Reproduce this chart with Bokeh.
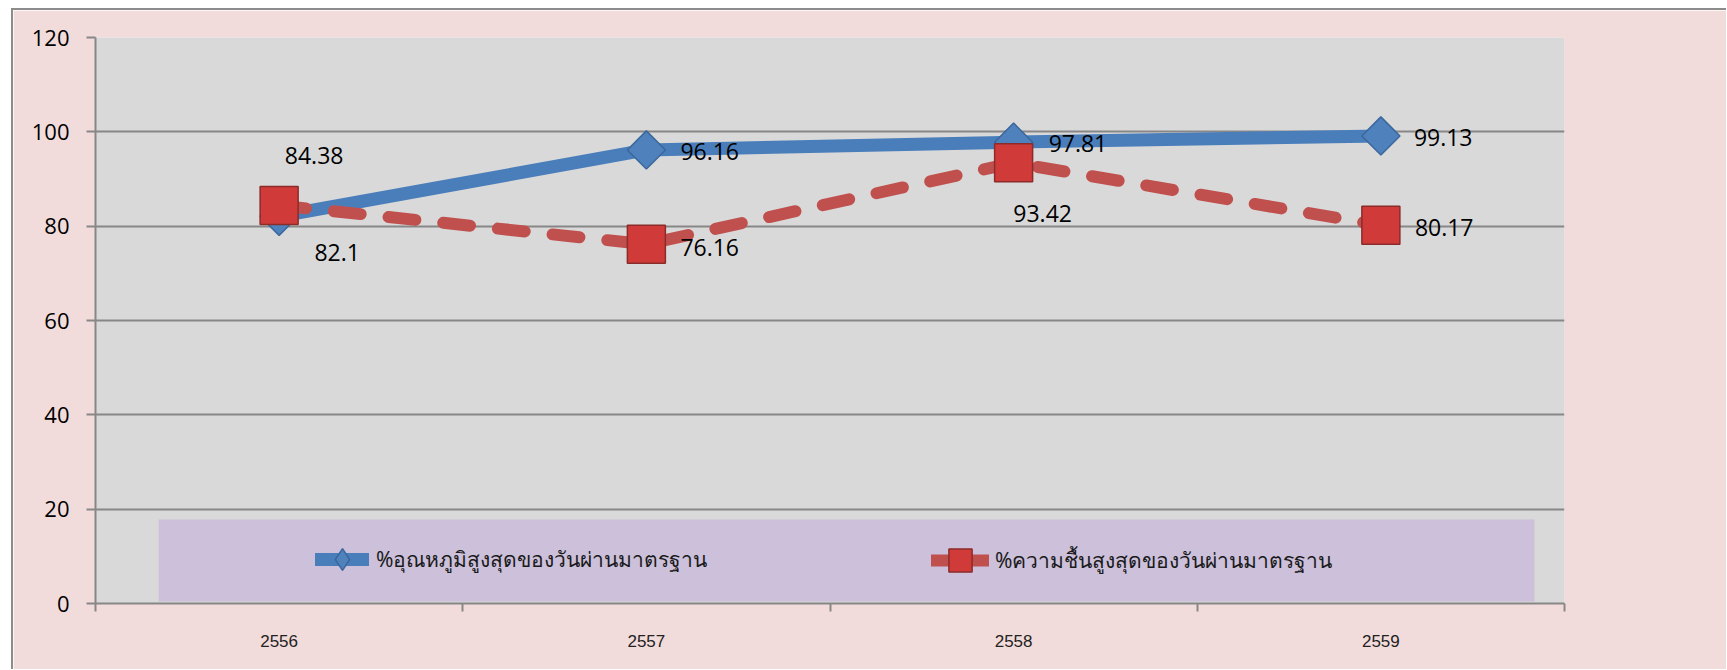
import math
from bokeh.plotting import figure
from bokeh.models import (ColumnDataSource, Range1d, FixedTicker, Legend, LegendItem,
                          BoxAnnotation)
from bokeh.core.properties import value, field
from bokeh.embed import file_html
from bokeh.resources import INLINE

# ---- data ----
years = ["2556", "2557", "2558", "2559"]
temp_pct = [82.1, 96.16, 97.81, 99.13]
humid_pct = [84.38, 76.16, 93.42, 80.17]
temp_name = "%อุณหภูมิสูงสุดของวันผ่านมาตรฐาน"
humid_name = "%ความชื้นสูงสุดของวันผ่านมาตรฐาน"
y_ticks = [0, 20, 40, 60, 80, 100, 120]

# ---- label placement (style only) ----
temp_lbl_dx = [58, 34, 35, 33]
temp_lbl_dy = [36, 2, 1, 2]
temp_lbl_align = ["center", "left", "left", "left"]
humid_lbl_dx = [35, 34, 29, 34]
humid_lbl_dy = [-50, 3, 51, 2]
humid_lbl_align = ["center", "left", "center", "left"]

xs = list(range(len(years)))

temp_src = ColumnDataSource(dict(x=xs, y=temp_pct, lbl=[str(v) for v in temp_pct],
                                 dx=temp_lbl_dx, dy=temp_lbl_dy, align=temp_lbl_align))
humid_src = ColumnDataSource(dict(x=xs, y=humid_pct, lbl=[str(v) for v in humid_pct],
                                  dx=humid_lbl_dx, dy=humid_lbl_dy, align=humid_lbl_align))

p = figure(frame_width=1469, frame_height=566,
           x_range=Range1d(-0.5, len(years) - 0.5), y_range=Range1d(0, 120),
           output_backend="svg", toolbar_location=None,
           min_border_left=82, min_border_right=162, min_border_top=27, min_border_bottom=66)
p.background_fill_color = "#D9D9D9"
p.border_fill_color = "#F2DCDB"
p.outline_line_color = None
p.styles = {"border-left": "2px solid #8C8C8C", "border-top": "2px solid #8C8C8C",
            "margin-left": "11px", "margin-top": "8px"}

AX = "#878787"
# y axis
p.yaxis.ticker = FixedTicker(ticks=y_ticks)
p.yaxis.axis_line_color = AX
p.yaxis.axis_line_width = 2
p.yaxis.major_tick_line_color = AX
p.yaxis.major_tick_line_width = 2
p.yaxis.major_tick_out = 9
p.yaxis.major_tick_in = 0
p.yaxis.minor_tick_line_color = None
p.yaxis.major_label_text_font = "Open Sans"
p.yaxis.major_label_text_font_size = "22px"
p.yaxis.major_label_text_color = "#000000"
p.yaxis.major_label_standoff = 17

# x axis
p.xaxis.ticker = FixedTicker(ticks=xs, minor_ticks=[i - 0.5 for i in range(len(years) + 1)])
p.xaxis.major_label_overrides = {i: y for i, y in enumerate(years)}
p.xaxis.axis_line_color = AX
p.xaxis.axis_line_width = 2
p.xaxis.major_tick_out = 0
p.xaxis.major_tick_in = 0
p.xaxis.major_tick_line_color = None
p.xaxis.minor_tick_out = 8
p.xaxis.minor_tick_in = 0
p.xaxis.minor_tick_line_color = AX
p.xaxis.minor_tick_line_width = 2
p.xaxis.major_label_text_font = "Liberation Sans"
p.xaxis.major_label_text_font_size = "17px"
p.xaxis.major_label_text_color = "#222222"
p.xaxis.major_label_standoff = 23

p.xgrid.visible = False
p.ygrid.ticker = FixedTicker(ticks=y_ticks)
p.ygrid.grid_line_color = AX
p.ygrid.grid_line_width = 2

# legend background box
p.add_layout(BoxAnnotation(left=-0.328, right=3.418, bottom=0.4, top=17.8,
                           fill_color="#CCC0DA", fill_alpha=1, line_color=None))

BLUE = "#4A7EBB"
RED = "#C0504D"

# series
p.line("x", "y", source=temp_src, line_color=BLUE, line_width=13, line_cap="round",
       line_join="round")
p.scatter("x", "y", source=temp_src, marker="square", size=27, angle=math.pi / 4,
          fill_color="#4F81BD", line_color="#3A679C", line_width=1.5)
p.line("x", "y", source=humid_src, line_color=RED, line_width=12, line_cap="round",
       line_dash="27 28")
p.scatter("x", "y", source=humid_src, marker="square", size=38,
          fill_color="#D03A38", line_color="#8B2C2A", line_width=1.5)

# labels
for src in (temp_src, humid_src):
    p.text("x", "y", text="lbl", source=src, x_offset="dx", y_offset="dy",
           text_align=field("align"), text_baseline="middle",
           text_font=value("Open Sans"), text_font_size="23px", text_color="#000000")

# legend proxies (not drawn in the plot)
bl_l = p.line("x", "y", source=temp_src, line_color=BLUE, line_width=13, line_cap="round",
              visible=False)
bl_m = p.scatter("x", "y", source=temp_src, marker="diamond",
                 fill_color="#4F81BD", line_color="#3A679C", line_width=1.5, visible=False)
rd_l = p.line("x", "y", source=humid_src, line_color=RED, line_width=12, line_cap="round",
              visible=False)
rd_m = p.scatter("x", "y", source=humid_src, marker="square",
                 fill_color="#D03A38", line_color="#8B2C2A", line_width=1.5, visible=False)

common = dict(orientation="horizontal", padding=0, margin=0, spacing=0,
              border_line_alpha=0, background_fill_alpha=0,
              label_text_font="Noto Sans", label_text_font_size="21px",
              label_text_color="#1A1A1A")
leg1 = Legend(items=[LegendItem(label=temp_name, renderers=[bl_l, bl_m])],
              location=(220, 17), glyph_width=54, glyph_height=54, label_standoff=7, **common)
leg2 = Legend(items=[LegendItem(label=humid_name, renderers=[rd_l, rd_m])],
              location=(836, 11), glyph_width=58, glyph_height=64, label_standoff=6, **common)
p.add_layout(leg1)
p.add_layout(leg2)

open("out.html", "w").write(file_html(p, INLINE))
